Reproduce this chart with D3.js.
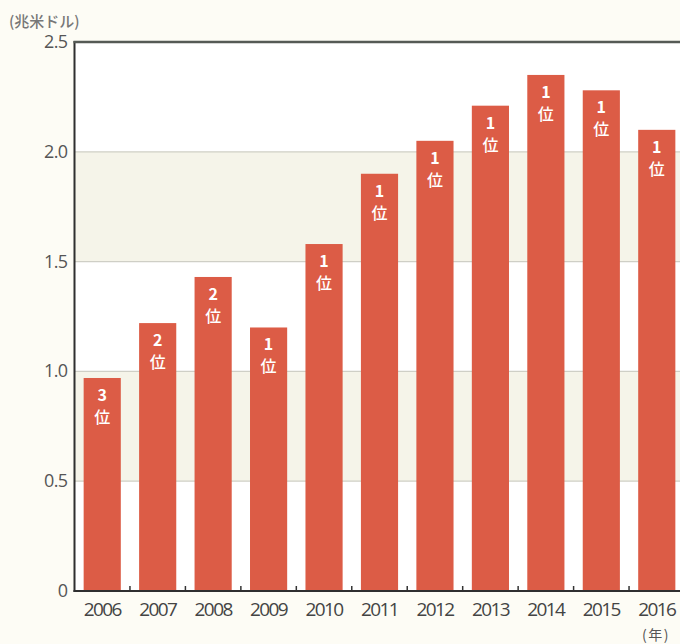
<!DOCTYPE html>
<html><head><meta charset="utf-8">
<script src="https://cdn.jsdelivr.net/npm/d3@7"></script>
<style>
html,body{margin:0;padding:0;background:#fdfcf5;}
svg{display:block;}
</style></head>
<body>
<svg id="chart" width="680" height="644"></svg>
<script>
const years = ["2006","2007","2008","2009","2010","2011","2012","2013","2014","2015","2016"];
const values = [0.97, 1.22, 1.43, 1.20, 1.58, 1.90, 2.05, 2.21, 2.35, 2.28, 2.10];
const ranks = ["3","2","2","1","1","1","1","1","1","1","1"];
const yTicks = [0, 0.5, 1.0, 1.5, 2.0, 2.5];
const yTickLabels = ["0","0.5","1.0","1.5","2.0","2.5"];
const unitLabel = "(兆米ドル)";
const xUnitLabel = "(年)";
const rankSuffix = "位";

(function(){
const svg = d3.select("#chart");
const pL = 74.5, pR = 684.5, pT = 42, pB = 591;
const x = d3.scaleBand().domain(years).range([pL, pR]).paddingInner(0.33).paddingOuter(0.165);
const xb = d3.scaleBand().domain(years).range([pL, pR]);
const y = d3.scaleLinear().domain([0, 2.5]).range([pB, pT]);

svg.append("rect").attr("x", pL).attr("y", pT).attr("width", pR-pL).attr("height", pB-pT).attr("fill", "#ffffff");
[[0.5,1.0],[1.5,2.0]].forEach(([a,b]) => {
  svg.append("rect").attr("x", pL).attr("width", pR-pL)
    .attr("y", y(b)).attr("height", y(a)-y(b)).attr("fill", "#f5f4e9");
});
svg.append("g").selectAll("line").data(yTicks.filter(d => d>0 && d<2.5)).join("line")
  .attr("x1", pL).attr("x2", pR).attr("y1", d=>y(d)).attr("y2", d=>y(d))
  .attr("stroke", "#cfcfc6").attr("stroke-width", 1.2);

svg.append("g").selectAll("rect").data(years).join("rect")
  .attr("x", d => x(d)).attr("width", x.bandwidth())
  .attr("y", (d,i) => y(values[i])).attr("height", (d,i) => y(0)-y(values[i]))
  .attr("fill", "#dc5c46");

const lab = svg.append("g").attr("font-family", "'Noto Sans CJK JP', 'Noto Sans', sans-serif").attr("fill", "#fff").attr("text-anchor", "middle");
years.forEach((d,i) => {
  const cx = x(d) + x.bandwidth()/2;
  lab.append("text").attr("x", cx).attr("y", y(values[i]) + 23).attr("font-size", 16).attr("font-weight", 700).text(ranks[i]);
  lab.append("text").attr("x", cx).attr("y", y(values[i]) + 45).attr("font-size", 16).attr("font-weight", 500).text(rankSuffix);
});

const yAxis = d3.axisLeft(y).tickValues(yTicks).tickFormat((d,i) => yTickLabels[i]).tickSize(0).tickPadding(7);
const ga = svg.append("g").attr("transform", `translate(${pL},0)`).call(yAxis);
ga.select(".domain").remove();
ga.selectAll("text").attr("font-family", "'Open Sans', sans-serif").attr("font-size", 18).attr("fill", "#555").attr("dy", "0.3em").attr("letter-spacing", "-0.6px");

const xAxis = d3.axisBottom(xb).tickSize(0).tickPadding(9);
const gx = svg.append("g").attr("transform", `translate(0,${pB})`).call(xAxis);
gx.select(".domain").remove();
gx.selectAll("text").attr("font-family", "'Open Sans', sans-serif").attr("font-size", 19).attr("fill", "#444").attr("letter-spacing", "-1.6px").attr("dy", "0.85em");
svg.append("g").selectAll("line").data(years.slice(1)).join("line")
  .attr("x1", d => xb(d)).attr("x2", d => xb(d)).attr("y1", pB).attr("y2", pB-5)
  .attr("stroke", "#333").attr("stroke-width", 1.5);

svg.append("line").attr("x1", pL).attr("x2", pL).attr("y1", pT-1).attr("y2", pB+1).attr("stroke", "#2f2f2f").attr("stroke-width", 2);
svg.append("line").attr("x1", pL-1).attr("x2", 680).attr("y1", pB).attr("y2", pB).attr("stroke", "#2f2f2f").attr("stroke-width", 2);
svg.append("line").attr("x1", pL-1).attr("x2", 680).attr("y1", pT).attr("y2", pT).attr("stroke", "#555a55").attr("stroke-width", 2.5);

svg.append("text").attr("x", 9).attr("y", 27).attr("font-family", "'Noto Sans CJK JP', sans-serif").attr("font-size", 15).attr("font-weight", 500).attr("fill", "#777").text(unitLabel);
svg.append("text").attr("x", 642).attr("y", 640).attr("font-family", "'Noto Sans CJK JP', sans-serif").attr("font-size", 14).attr("fill", "#555").attr("letter-spacing", "1.5px").text(xUnitLabel);
})();
</script>
</body></html>
